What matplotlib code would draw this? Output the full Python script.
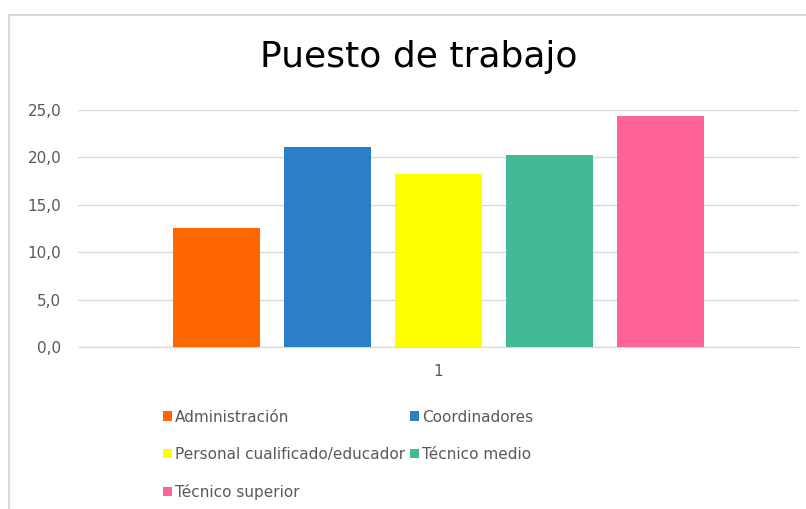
import matplotlib.pyplot as plt
from matplotlib.patches import Patch, Rectangle

# Datos del gráfico
categorias = ['Administración', 'Coordinadores', 'Personal cualificado/educador',
              'Técnico medio', 'Técnico superior']
valores = [12.6, 21.1, 18.3, 20.3, 24.4]
colores = ['#FF6600', '#2A7FC6', '#FFFF00', '#43B997', '#FE6495']
yticks = [0, 5, 10, 15, 20, 25]
ytick_labels = ['0,0', '5,0', '10,0', '15,0', '20,0', '25,0']
xtick_labels = ['1']

gris = '#595959'

fig = plt.figure(figsize=(8.06, 5.09), dpi=100)
fig.patch.set_facecolor('white')

# borde del área del gráfico
fig.patches.append(Rectangle((9 / 806, -0.1), 1.2, 1 - 15 / 509 + 0.1,
                             transform=fig.transFigure, fill=False,
                             edgecolor='#d9d9d9', lw=1.5))

ax = fig.add_axes([78 / 806, 1 - 347 / 509, (799 - 78) / 806, (347 - 110) / 509])

x = list(range(len(valores)))
ax.bar(x, valores, width=0.78, color=colores, zorder=3)

ax.set_xlim(-1.25, 5.25)
ax.set_ylim(0, 25)
ax.set_yticks(yticks)
ax.set_yticklabels(ytick_labels)
ax.set_xticks([2])
ax.set_xticklabels(xtick_labels)

ax.grid(axis='y', color='#d9d9d9', lw=1, zorder=0)
for s in ['top', 'right', 'left']:
    ax.spines[s].set_visible(False)
ax.spines['bottom'].set_color('#d9d9d9')
ax.tick_params(axis='y', length=0, pad=12, labelsize=11, labelcolor=gris)
ax.tick_params(axis='x', length=0, pad=12, labelsize=11, labelcolor=gris)

fig.text(419 / 806, 1 - 57 / 509, 'Puesto de trabajo', ha='center', va='center',
         fontsize=26, color='black')

# leyenda: orden por filas -> reordenar para ncol=2
handles = [Patch(facecolor=c, edgecolor='none') for c in colores]
orden = [0, 2, 4, 1, 3]
fig.legend([handles[i] for i in orden], [categorias[i] for i in orden],
           loc='upper left', bbox_to_anchor=(155 / 806, 1 - 402 / 509),
           ncol=2, frameon=False, fontsize=11, labelcolor=gris,
           handlelength=0.6, handleheight=0.6, handletextpad=0.2,
           columnspacing=0.3, labelspacing=1.45, borderpad=0)

fig.savefig('out.png', dpi=100)
